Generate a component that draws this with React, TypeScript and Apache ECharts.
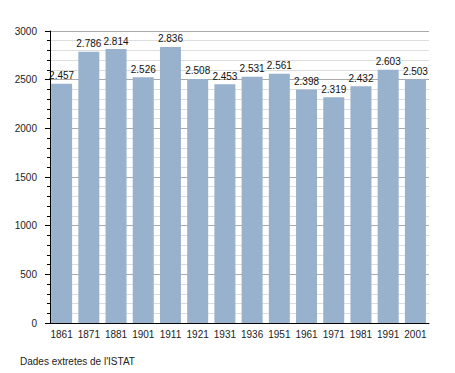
import React, { useEffect, useRef } from "react";
import * as echarts from "echarts";

const years = ["1861", "1871", "1881", "1901", "1911", "1921", "1931", "1936", "1951", "1961", "1971", "1981", "1991", "2001"];
const population = [2457, 2786, 2814, 2526, 2836, 2508, 2453, 2531, 2561, 2398, 2319, 2432, 2603, 2503];
const yTicks = { min: 0, max: 3000, interval: 500 };
const sourceNote = "Dades extretes de l'ISTAT";

const FONT = "Liberation Sans, Arial, Helvetica, sans-serif";

export default function App() {
  const ref = useRef<HTMLDivElement>(null);
  useEffect(() => {
    document.body.style.margin = "0";
    const chart = echarts.init(ref.current!, null, { renderer: "svg" });
    chart.setOption({
      animation: false,
      backgroundColor: "#ffffff",
      textStyle: { fontFamily: FONT },
      grid: { left: 48, right: 26, top: 31, bottom: 50, containLabel: false },
      graphic: [
        {
          type: "text",
          left: 20,
          top: 356,
          style: { text: sourceNote, fontSize: 10, fill: "#222", fontFamily: FONT },
        },
      ],
      xAxis: {
        type: "category",
        data: years,
        boundaryGap: true,
        axisLine: { show: true, lineStyle: { color: "#000", width: 1 } },
        axisTick: { show: false },
        axisLabel: { interval: 0, color: "#222", fontSize: 10, margin: 6, fontFamily: FONT },
        splitLine: { show: false },
      },
      yAxis: {
        type: "value",
        min: yTicks.min,
        max: yTicks.max,
        interval: yTicks.interval,
        offset: -2,
        axisLine: { show: true, lineStyle: { color: "#000", width: 1 } },
        axisTick: { show: true, length: 5, lineStyle: { color: "#000" } },
        minorTick: { show: true, splitNumber: 5, length: 3, lineStyle: { color: "#000" } },
        axisLabel: {
          color: "#222",
          fontSize: 10,
          margin: 13,
          fontFamily: FONT,
          formatter: (v: number) => String(v),
        },
        splitLine: { show: true, lineStyle: { color: "#aaaaaa", width: 1 } },
        minorSplitLine: { show: true, lineStyle: { color: "#dddddd", width: 1 } },
      },
      series: [
        {
          type: "bar",
          data: population,
          barWidth: 21,
          itemStyle: { color: "#98b1cc" },
          label: {
            show: true,
            position: "top",
            distance: 3,
            color: "#111",
            fontSize: 10,
            fontFamily: FONT,
            formatter: (p: any) => {
              const v = String(p.value);
              return v.replace(/\B(?=(\d{3})+(?!\d))/g, ".");
            },
          },
        },
      ],
    });
    return () => chart.dispose();
  }, []);
  return <div ref={ref} style={{ width: 455, height: 373 }} />;
}
